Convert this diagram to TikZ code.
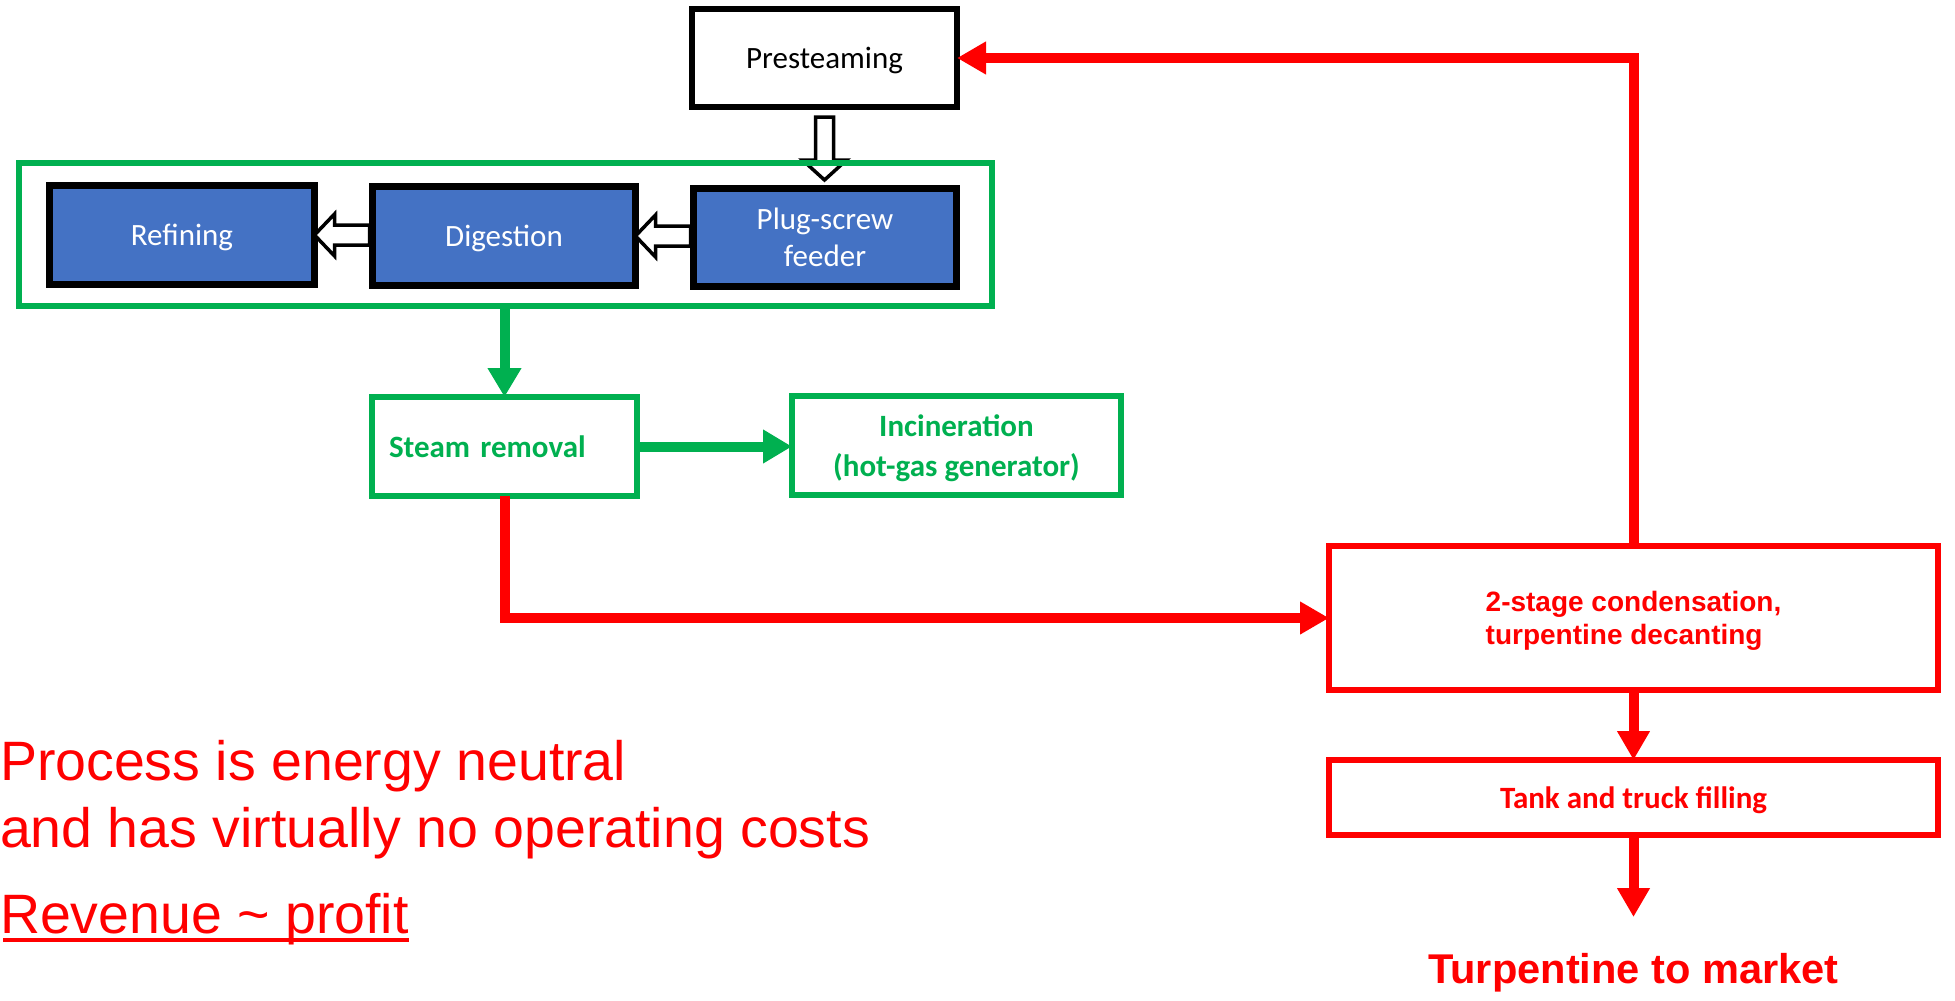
\documentclass[tikz,border=0pt]{standalone}
\usepackage{fontspec}
\setmainfont{Carlito}
\newfontfamily\arialf{Liberation Sans}
\usetikzlibrary{arrows.meta,calc}
\definecolor{ublue}{HTML}{4472C4}
\definecolor{ugreen}{HTML}{00B050}
\definecolor{ured}{HTML}{FF0000}
\begin{document}
\begin{tikzpicture}[x=1pt,y=-1pt,
 every node/.style={inner sep=0pt, outer sep=0pt},
 bluebox/.style={draw=black, line width=7pt, fill=ublue, text=white, font=\fontsize{31}{37}\selectfont, align=center, text depth=0pt},
 whitebox/.style={draw=black, line width=6pt, fill=white, font=\fontsize{31}{37}\selectfont, text depth=0pt},
 greenbox/.style={draw=ugreen, line width=6pt, text=ugreen, font=\bfseries\fontsize{31}{40}\selectfont, align=center, text depth=0pt},
 redbox/.style={draw=ured, line width=6pt, text=ured, text depth=0pt},
 hollow/.style={draw=black, fill=white, line width=3.5pt, line join=miter},
 redflow/.style={draw=ured, line width=10pt, -{Triangle[length=29pt,width=31pt]}},
 greenflow/.style={draw=ugreen, line width=10pt, -{Triangle[length=29pt,width=32pt]}},
 notetext/.style={anchor=base west, text=ured, font=\arialf\fontsize{55.5}{67}\selectfont},
]
\fill[white] (0,0) rectangle (1955,1001);
\useasboundingbox (0,0) rectangle (1955,1001);

% boxes
\node[whitebox, minimum width=265pt, minimum height=98pt] (pre) at (824.5,58) {Presteaming};
\node[bluebox, minimum width=265pt, minimum height=99pt] (ref) at (182,235) {Refining};
\node[bluebox, minimum width=263pt, minimum height=99pt] (dig) at (504,236) {Digestion};
\node[bluebox, minimum width=263pt, minimum height=98pt] (plug) at (825,237.5) {Plug-screw\\feeder};

\node[greenbox, minimum height=99pt, text width=231pt, inner xsep=17pt, align=left] (steam) at (504.5,446.5) {Steam removal};
\node[greenbox, minimum width=329pt, minimum height=99pt] (inc) at (956.5,445.5) {Incineration\\(hot-gas generator)};

\node[redbox, minimum width=609pt, minimum height=144pt, align=left,
      font=\arialf\bfseries\fontsize{28}{33}\selectfont] (cond) at (1633.5,618) {2-stage condensation,\\turpentine decanting};
\node[redbox, minimum width=609pt, minimum height=75pt,
      font=\bfseries\fontsize{31}{37}\selectfont] (tank) at (1633.5,797.5) {Tank and truck filling};
\node[anchor=base, text=ured, font=\arialf\bfseries\fontsize{41.6}{50}\selectfont] (mkt) at (1633.5,983) {Turpentine to market};
\coordinate (mktin) at (1633.5,917);

% hollow arrows
\draw[hollow] ($(pre.south)+(-9,10)$) -- ($(pre.south)+(-9,53)$) -- ($(pre.south)+(-22,53)$)
  -- ($(pre.south)+(0,73)$) -- ($(pre.south)+(22,53)$) -- ($(pre.south)+(9,53)$)
  -- ($(pre.south)+(9,10)$) -- cycle;
\draw[hollow] ($(dig.east)+(20,-10)$) -- ($(plug.west |- dig.east)+(-3,-10)$)
  -- ($(plug.west |- dig.east)+(-3,10)$) -- ($(dig.east)+(20,10)$) -- ($(dig.east)+(20,21)$)
  -- (dig.east) -- ($(dig.east)+(20,-21)$) -- cycle;
\draw[hollow] ($(ref.east)+(20,-10)$) -- ($(dig.west |- ref.east)+(-3,-10)$)
  -- ($(dig.west |- ref.east)+(-3,10)$) -- ($(ref.east)+(20,10)$) -- ($(ref.east)+(20,21)$)
  -- (ref.east) -- ($(ref.east)+(20,-21)$) -- cycle;

% green container
\node[draw=ugreen, line width=6pt, minimum width=973pt, minimum height=143pt] (grp) at (505.5,234.5) {};

% green flows
\draw[greenflow] (steam.north |- grp.south) -- (steam.north);
\draw[greenflow] (steam.east) -- (steam.east -| inc.west);

% red flows
\draw[redflow] (steam.south) |- (cond.west);
\draw[redflow] (cond.north) -- (cond.north |- pre.east) -- (pre.east);
\draw[redflow] (cond.south) -- (tank.north);
\draw[redflow] (tank.south) -- (mktin);

% notes
\node[notetext] (note1) at (0,780) {Process is energy neutral};
\node[notetext] (note2) at (0,847) {and has virtually no operating costs};
\node[notetext] (rev) at (0,933) {Revenue \textasciitilde{} profit};
\draw[ured, line width=4pt] ($(rev.base west)+(3,7)$) -- ($(rev.base east)+(0,7)$);
\end{tikzpicture}
\end{document}
